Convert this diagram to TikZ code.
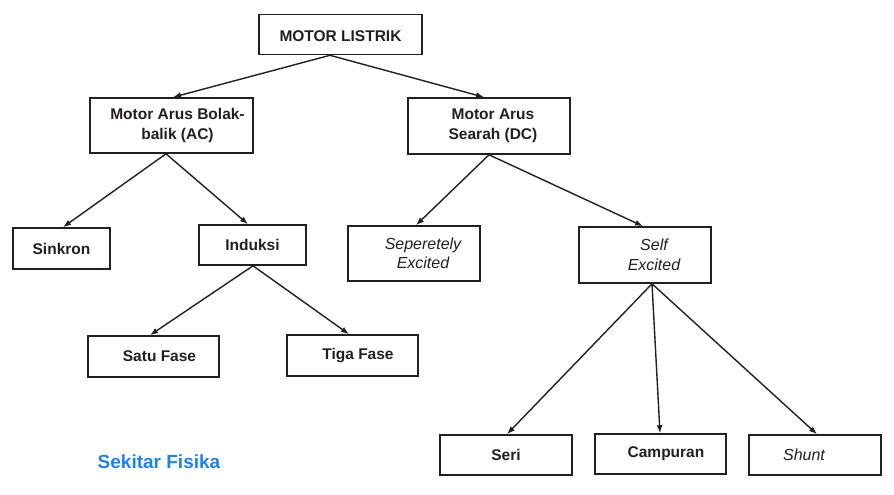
\documentclass[tikz,border=0pt]{standalone}
\usepackage{fontspec}
\setmainfont{Liberation Sans}
\usetikzlibrary{arrows.meta}
\definecolor{brand}{HTML}{1A82F5}
\definecolor{ink}{HTML}{231F20}
\begin{document}
\begin{tikzpicture}[x=1pt,y=-1pt,
  box/.style={draw=ink,line width=1.6pt,rectangle,inner sep=0pt,fill=white},
  txt/.style={text=ink,font=\fontsize{15.5}{19.5}\selectfont\bfseries,align=center,inner sep=0pt},
  itxt/.style={text=ink,font=\fontsize{16}{19.5}\selectfont\itshape,align=center,inner sep=0pt},
  conn/.style={draw=ink,line width=1.4pt,-{Latex[length=8pt,width=6pt]}}]
\useasboundingbox (0,0) rectangle (894,495);
% boxes
\node[box,minimum width=163,minimum height=40,label={[txt,yshift=-1.5]center:MOTOR LISTRIK}] (top) at (340.5,34.5) {};
\node[box,minimum width=163,minimum height=55,label={[txt,xshift=6]center:Motor Arus Bolak-\\balik (AC)}] (ac) at (171.5,125.5) {};
\node[box,minimum width=162,minimum height=56,label={[txt,xshift=4]center:Motor Arus\\Searah (DC)}] (dc) at (489,126) {};
\node[box,minimum width=97,minimum height=41,label={[txt]center:Sinkron}] (sink) at (61.5,248.5) {};
\node[box,minimum width=107,minimum height=40,label={[txt]center:Induksi}] (ind) at (252.5,245) {};
\node[box,minimum width=131,minimum height=41,label={[txt,xshift=6]center:Satu Fase}] (satu) at (153.5,356.5) {};
\node[box,minimum width=131,minimum height=41,label={[txt,xshift=5.5]center:Tiga Fase}] (tiga) at (352.5,355.5) {};
\node[box,minimum width=132,minimum height=55,label={[itxt,xshift=9]center:Seperetely\\Excited}] (sep) at (414,253.5) {};
\node[box,minimum width=132,minimum height=56,label={[itxt,xshift=9]center:Self\\Excited}] (self) at (645,255) {};
\node[box,minimum width=132,minimum height=40,label={[txt]center:Seri}] (seri) at (506,455) {};
\node[box,minimum width=131,minimum height=40,label={[txt,xshift=5.5]center:Campuran}] (camp) at (660.5,454) {};
\node[box,minimum width=132,minimum height=40,label={[itxt,xshift=-11]center:Shunt}] (shunt) at (815,455) {};
% watermark
\node[text=brand,font=\fontsize{19}{22}\selectfont\bfseries,inner sep=0pt] (wm) at (159,462) {Sekitar Fisika};
% connectors
\draw[conn] ([xshift=-10.5]top.south) -- ([xshift=1.5]ac.north);
\draw[conn] ([xshift=-10.5]top.south) -- ([xshift=-5]dc.north);
\draw[conn] ([xshift=-5.5]ac.south) -- ([xshift=1.5]sink.north);
\draw[conn] ([xshift=-5.5]ac.south) -- ([xshift=-4.5]ind.north);
\draw[conn] ([xshift=0.5]ind.south) -- ([xshift=-3.5]satu.north);
\draw[conn] ([xshift=0.5]ind.south) -- ([xshift=-3.5]tiga.north);
\draw[conn] (dc.south) -- ([xshift=2]sep.north);
\draw[conn] (dc.south) -- ([xshift=-2]self.north);
\draw[conn] ([xshift=7]self.south) -- ([xshift=1]seri.north);
\draw[conn] ([xshift=7]self.south) -- ([xshift=-0.5]camp.north);
\draw[conn] ([xshift=7]self.south) -- ([xshift=2]shunt.north);
\end{tikzpicture}
\end{document}
